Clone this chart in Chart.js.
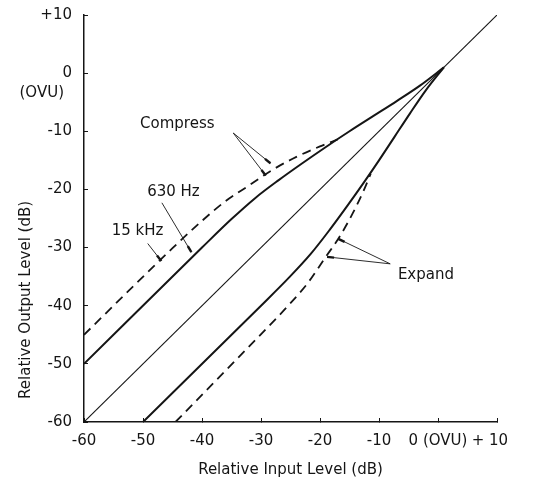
<!DOCTYPE html>
<html>
<head>
<meta charset="utf-8">
<script src="https://cdn.jsdelivr.net/npm/chart.js@4.4.1/dist/chart.umd.min.js"></script>
<style>
  html, body { margin: 0; padding: 0; background: #fff; }
  #wrap { width: 552px; height: 483px; }
</style>
</head>
<body>
<div id="wrap"><canvas id="chart" width="552" height="483"></canvas></div>
<script>
// axis ticks
const tickValues = [-60, -50, -40, -30, -20, -10, 0, 10];
const inputTickLabels = ['-60', '-50', '-40', '-30', '-20', '-10', '0 (OVU)', '+ 10   '];
const outputTickLabels = ['-60', '-50', '-40', '-30', '-20', '-10', '0', '+10'];

// unity line
const unityIn = [-60, 10];
const unityOut = [-60, 10];

// compress, 630 Hz (solid)
const comp630In = [-60, -40, -35, -31, -27, -23, -19, -15, -11, -7, -3, 1];
const comp630Out = [-50, -30, -25.1, -21.5, -18.4, -15.5, -12.7, -10.0, -7.4, -4.8, -2.1, 1];

// compress, 15 kHz (dashed)
const comp15kIn = [-60, -45, -40, -36, -32, -28, -24, -20, -17];
const comp15kOut = [-45, -30.1, -25.4, -22.0, -19.3, -16.6, -14.4, -12.6, -11.4];

// expand, 630 Hz (solid)
const exp630In = [-50, -30, -25.1, -21.5, -18.4, -15.5, -12.7, -10.0, -7.4, -4.8, -2.1, 1];
const exp630Out = [-60, -40, -35, -31, -27, -23, -19, -15, -11, -7, -3, 1];

// expand, 15 kHz (dashed)
const exp15kIn = [-44.5, -30.1, -25.4, -22.0, -19.3, -16.6, -14.4, -12.6, -11.4];
const exp15kOut = [-60, -45, -40, -36, -32, -28, -24, -20.2, -17.3];

const ink = '#151515';
const fontFamily = '"DejaVu Sans", sans-serif';

function pts(xs, ys) {
    return xs.map((x, i) => ({ x: x, y: ys[i] }));
}

// text labels and leader lines, in data units
const notes = [
    { text: 'Compress', x: -50.5, y: -8.7 },
    { text: '630 Hz', x: -49.3, y: -20.4 },
    { text: '15 kHz', x: -55.3, y: -27.1 },
    { text: 'Expand', x: -6.8, y: -34.8 }
];
const leaders = [
    [[-34.7, -10.3], [-28.4, -15.5]],
    [[-34.7, -10.3], [-29.2, -17.6]],
    [[-46.8, -22.3], [-41.8, -30.8]],
    [[-49.2, -29.3], [-46.9, -32.3]],
    [[-8.1, -32.8], [-16.9, -28.5]],
    [[-8.1, -32.8], [-18.8, -31.6]]
];

const notesPlugin = {
    id: 'notes',
    afterDraw(chart) {
        const ctx = chart.ctx;
        const xs = chart.scales.x;
        const ys = chart.scales.y;
        ctx.save();
        ctx.strokeStyle = ink;
        leaders.forEach(l => {
            const x0 = xs.getPixelForValue(l[0][0]), y0 = ys.getPixelForValue(l[0][1]);
            const x1 = xs.getPixelForValue(l[1][0]), y1 = ys.getPixelForValue(l[1][1]);
            const len = Math.hypot(x1 - x0, y1 - y0);
            ctx.lineWidth = 0.9;
            ctx.beginPath();
            ctx.moveTo(x0, y0);
            ctx.lineTo(x1, y1);
            ctx.stroke();
            // slim arrow end
            ctx.lineWidth = 2.4;
            ctx.beginPath();
            ctx.moveTo(x1 - (x1 - x0) * 7 / len, y1 - (y1 - y0) * 7 / len);
            ctx.lineTo(x1, y1);
            ctx.stroke();
        });
        ctx.fillStyle = ink;
        ctx.font = '15px ' + fontFamily;
        ctx.textAlign = 'left';
        ctx.textBaseline = 'middle';
        notes.forEach(n => {
            ctx.fillText(n.text, xs.getPixelForValue(n.x), ys.getPixelForValue(n.y));
        });
        // "(OVU)" under the 0 tick label
        ctx.textAlign = 'right';
        ctx.fillText('(OVU)', ys.right - 20, ys.getPixelForValue(0) + 20);
        // y axis title
        ctx.translate(26, ys.getPixelForValue(-39));
        ctx.rotate(-Math.PI / 2);
        ctx.textAlign = 'center';
        ctx.fillText('Relative Output Level (dB)', 0, 0);
        ctx.restore();
    }
};

const ctx = document.getElementById('chart').getContext('2d');
const chart = new Chart(ctx, {
    type: 'line',
    data: {
        datasets: [
            { data: pts(unityIn, unityOut), borderWidth: 1.1 },
            { data: pts(comp630In, comp630Out), borderWidth: 2, cubicInterpolationMode: 'monotone' },
            { data: pts(comp15kIn, comp15kOut), borderWidth: 1.8, borderDash: [9, 6], cubicInterpolationMode: 'monotone' },
            { data: pts(exp630In, exp630Out), borderWidth: 2, cubicInterpolationMode: 'monotone' },
            { data: pts(exp15kIn, exp15kOut), borderWidth: 1.8, borderDash: [9, 6], cubicInterpolationMode: 'monotone' }
        ]
    },
    options: {
        responsive: false,
        animation: false,
        elements: {
            line: { borderColor: ink, fill: false },
            point: { radius: 0, hoverRadius: 0 }
        },
        layout: { padding: { top: 15, right: 55, bottom: 0, left: 0 } },
        plugins: {
            legend: { display: false },
            tooltip: { enabled: false }
        },
        scales: {
            x: {
                type: 'linear',
                min: -60,
                max: 10,
                afterFit: s => { s.height = 61; s.paddingLeft = 0; s.paddingRight = 0; },
                border: { display: true, color: ink, width: 1.5 },
                grid: { display: true, drawOnChartArea: false, drawTicks: true, tickLength: -4, color: ink },
                ticks: {
                    stepSize: 10,
                    autoSkip: false,
                    maxRotation: 0,
                    padding: 14,
                    color: ink,
                    font: { family: fontFamily, size: 15 },
                    callback: v => inputTickLabels[tickValues.indexOf(v)]
                },
                title: {
                    display: true,
                    text: 'Relative Input Level (dB)',
                    color: ink,
                    font: { family: fontFamily, size: 15 }
                }
            },
            y: {
                type: 'linear',
                min: -60,
                max: 10,
                afterFit: s => { s.width = 84; s.paddingTop = 0; s.paddingBottom = 0; },
                border: { display: true, color: ink, width: 1.5 },
                grid: { display: true, drawOnChartArea: false, drawTicks: true, tickLength: -4, color: ink },
                ticks: {
                    stepSize: 10,
                    autoSkip: false,
                    padding: 16,
                    color: ink,
                    font: { family: fontFamily, size: 15 },
                    callback: v => outputTickLabels[tickValues.indexOf(v)]
                }
            }
        }
    },
    plugins: [notesPlugin]
});
</script>
</body>
</html>
